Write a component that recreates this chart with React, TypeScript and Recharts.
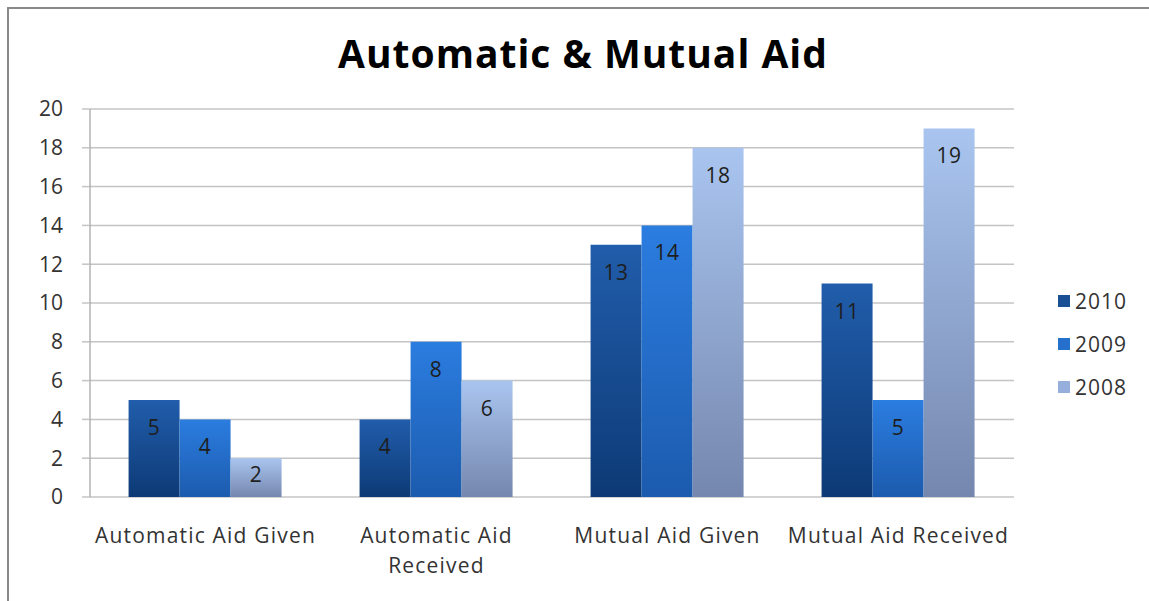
import React from 'react';
import { BarChart, Bar, XAxis, YAxis, CartesianGrid, Legend, LabelList } from 'recharts';

const categories = ['Automatic Aid Given', 'Automatic Aid Received', 'Mutual Aid Given', 'Mutual Aid Received'];
const values2010 = [5, 4, 13, 11];
const values2009 = [4, 8, 14, 5];
const values2008 = [2, 6, 18, 19];
const yTicks = [0, 2, 4, 6, 8, 10, 12, 14, 16, 18, 20];
const boundaryTicks = [0, 1, 2, 3, 4];
const seriesNames = ['2010', '2009', '2008'];

const data = categories.map((c, i) => ({
  category: c,
  '2010': values2010[i],
  '2009': values2009[i],
  '2008': values2008[i],
}));

const FONT = '"Open Sans", "DejaVu Sans", sans-serif';
const LABEL_SIZE = 21;
const LABEL_SPACING = 1.2;

const grads: Record<string, [string, string]> = {
  '2010': ['#215DAB', '#0D3A76'],
  '2009': ['#2B7DE0', '#1C5BAE'],
  '2008': ['#A9C5EF', '#7587AE'],
};
const legendColor: Record<string, string> = {
  '2010': '#1A4F95',
  '2009': '#2470CC',
  '2008': '#95AEDC',
};

let ctx: CanvasRenderingContext2D | null = null;
function measure(s: string): number {
  if (typeof document !== 'undefined' && !ctx) {
    ctx = document.createElement('canvas').getContext('2d');
  }
  if (!ctx) return s.length * LABEL_SIZE * 0.55;
  ctx.font = `${LABEL_SIZE}px "Open Sans"`;
  return ctx.measureText(s).width + LABEL_SPACING * s.length;
}
function wrap(s: string, maxW: number): string[] {
  const words = s.split(' ');
  const lines: string[] = [];
  let cur = '';
  for (const w of words) {
    const t = cur ? cur + ' ' + w : w;
    if (cur && measure(t) > maxW) {
      lines.push(cur);
      cur = w;
    } else cur = t;
  }
  if (cur) lines.push(cur);
  return lines;
}

const BarLabel = (props: any) => {
  const { x, y, width, height, value } = props;
  const cy = y + Math.min(27, height * 0.42);
  return (
    <text x={x + width / 2} y={cy} textAnchor="middle" dominantBaseline="central" fontSize={LABEL_SIZE} fill="#1e1e1e" fontFamily={FONT} letterSpacing={0.5}>
      {value}
    </text>
  );
};

const XTick = (props: any) => {
  const { x, y, payload } = props;
  const lines = wrap(String(payload.value), 226);
  return (
    <text x={x} y={y + 38} textAnchor="middle" fontSize={LABEL_SIZE} fill="#333" fontFamily={FONT} letterSpacing={LABEL_SPACING}>
      {lines.map((l, i) => (
        <tspan key={i} x={x} dy={i === 0 ? 0 : 30}>{l}</tspan>
      ))}
    </text>
  );
};

const EmptyTick = () => <g />;

const LegendContent = () => (
  <div style={{ fontFamily: FONT, fontSize: LABEL_SIZE, color: '#333' }}>
    {seriesNames.map((n) => (
      <div key={n} style={{ display: 'flex', alignItems: 'center', height: 43 }}>
        <span style={{ display: 'inline-block', width: 12, height: 12, background: legendColor[n], marginRight: 5 }} />
        <span style={{ letterSpacing: 1 }}>{n}</span>
      </div>
    ))}
  </div>
);

export default function App() {
  return (
    <div style={{ position: 'absolute', left: 0, top: 0, width: 1149, height: 601, background: '#fff', overflow: 'hidden' }}>
      <div style={{ position: 'absolute', left: 7, top: 7, width: 1200, height: 700, border: '2px solid #8a8a8a', boxSizing: 'border-box' }} />
      <div style={{ position: 'absolute', left: 0, width: 1166, top: 30, textAlign: 'center', fontFamily: FONT, fontWeight: 700, fontSize: 39, letterSpacing: 1, color: '#000', lineHeight: '46px' }}>
        Automatic &amp; Mutual Aid
      </div>
      <div style={{ position: 'absolute', left: 0, top: 0 }}>
        <BarChart width={1149} height={601} data={data} margin={{ top: 109, right: 135, left: 0, bottom: 0 }} barCategoryGap="16.7%" barGap={0}>
          <defs>
            {seriesNames.map((n) => (
              <linearGradient key={n} id={`g${n}`} x1="0" y1="0" x2="0" y2="1">
                <stop offset="0%" stopColor={grads[n][0]} />
                <stop offset="100%" stopColor={grads[n][1]} />
              </linearGradient>
            ))}
          </defs>
          <CartesianGrid vertical={false} stroke="#c4c4c4" strokeWidth={1.5} />
          <XAxis xAxisId="bounds" type="number" domain={[0, 4]} ticks={boundaryTicks} interval={0} height={0} tick={<EmptyTick />} tickSize={8} tickLine={{ stroke: '#8c8c8c' }} axisLine={{ stroke: '#b0b0b0' }} />
          <XAxis dataKey="category" height={104} tick={<XTick />} interval={0} tickLine={false} axisLine={false} />
          <YAxis width={90} domain={[0, 20]} ticks={yTicks} interval={0} tickSize={8} tickMargin={19} stroke="#8c8c8c" tickLine={{ stroke: '#c4c4c4', strokeWidth: 1.5 }} tick={{ fontSize: LABEL_SIZE, fill: '#333', fontFamily: FONT }} />
          <Legend layout="vertical" verticalAlign="middle" align="center" content={<LegendContent />} wrapperStyle={{ left: 1058, top: 279, width: 90 }} />
          {seriesNames.map((n) => (
            <Bar key={n} dataKey={n} fill={`url(#g${n})`} isAnimationActive={false}>
              <LabelList dataKey={n} content={<BarLabel />} />
            </Bar>
          ))}
        </BarChart>
      </div>
    </div>
  );
}
